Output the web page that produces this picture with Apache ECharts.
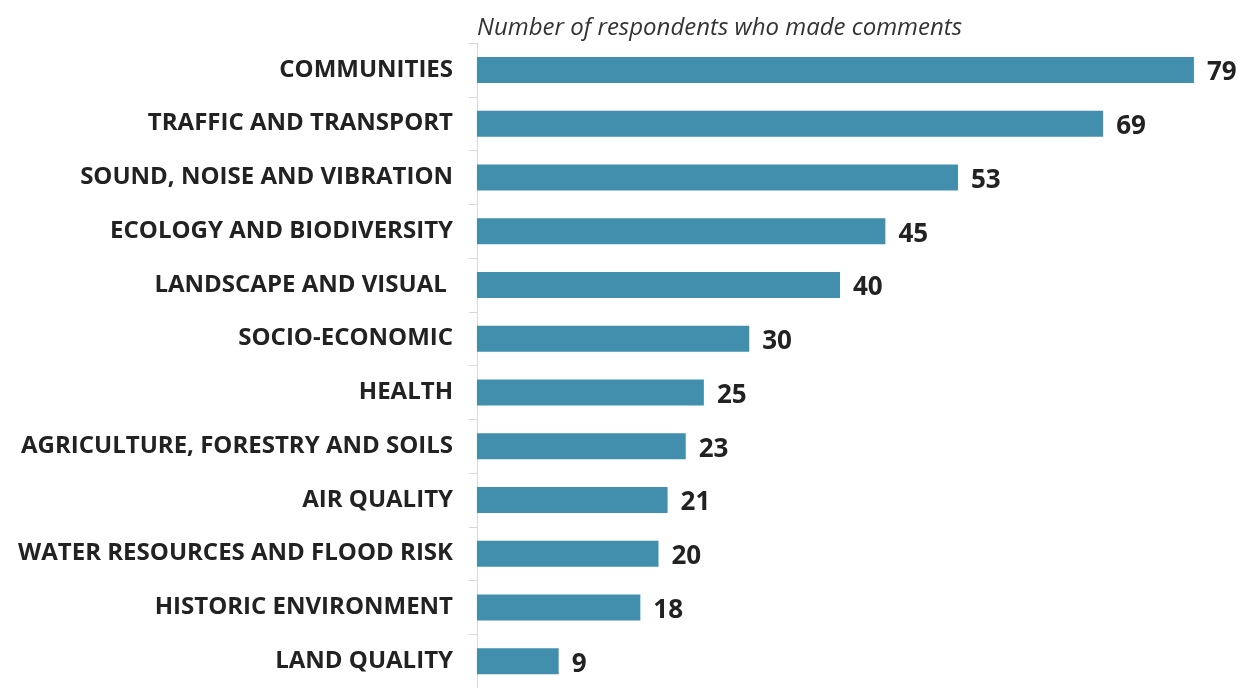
<!DOCTYPE html>
<html>
<head>
<meta charset="utf-8">
<script src="https://cdn.jsdelivr.net/npm/echarts@6/dist/echarts.min.js"></script>
<style>
html,body{margin:0;padding:0;background:#fff;}
#chart{width:1241px;height:688px;}
</style>
</head>
<body>
<div id="chart"></div>
<script>
// Topics raised by respondents, largest first
const topics = [
  'COMMUNITIES',
  'TRAFFIC AND TRANSPORT',
  'SOUND, NOISE AND VIBRATION',
  'ECOLOGY AND BIODIVERSITY',
  'LANDSCAPE AND VISUAL ',
  'SOCIO-ECONOMIC',
  'HEALTH',
  'AGRICULTURE, FORESTRY AND SOILS',
  'AIR QUALITY',
  'WATER RESOURCES AND FLOOD RISK',
  'HISTORIC ENVIRONMENT',
  'LAND QUALITY'
];
const respondents = [79, 69, 53, 45, 40, 30, 25, 23, 21, 20, 18, 9];
const chartTitle = 'Number of respondents who made comments';

const chart = echarts.init(document.getElementById('chart'));
chart.setOption({
  animation: false,
  textStyle: { fontFamily: '"Open Sans", sans-serif' },
  title: {
    text: chartTitle,
    left: 472,
    top: 11,
    textStyle: {
      fontFamily: '"Open Sans", sans-serif',
      fontStyle: 'italic',
      fontWeight: 'normal',
      fontSize: 24,
      color: '#333333'
    }
  },
  grid: { left: 477, right: 38, top: 43, bottom: -8, containLabel: false },
  xAxis: {
    type: 'value',
    min: 0,
    max: 80,
    show: false
  },
  yAxis: {
    type: 'category',
    data: topics,
    inverse: true,
    axisLine: { show: true, lineStyle: { color: '#d9d9d9', width: 1 } },
    axisTick: { show: true, length: 8, lineStyle: { color: '#d9d9d9' } },
    axisLabel: {
      margin: 24,
      padding: [4, 0, 0, 0],
      fontFamily: '"Open Sans", sans-serif',
      fontWeight: 'bold',
      fontSize: 24,
      color: '#222222'
    }
  },
  series: [{
    type: 'bar',
    data: respondents,
    barWidth: 26,
    itemStyle: { color: '#428fad' },
    label: {
      show: true,
      position: 'right',
      distance: 13,
      offset: [0, 3],
      fontFamily: '"Open Sans", sans-serif',
      fontWeight: 'bold',
      fontSize: 26,
      color: '#222222'
    }
  }]
});
</script>
</body>
</html>
